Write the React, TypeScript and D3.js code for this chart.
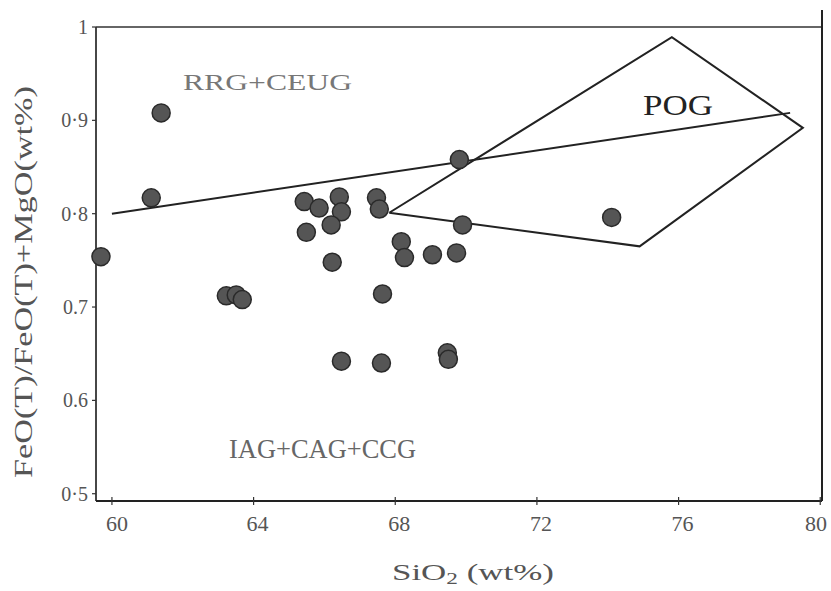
import React from "react";
import * as d3 from "d3";

// SiO2 (wt%) and FeO(T)/(FeO(T)+MgO) for each sample
const sio2 = [61.39, 61.11, 59.69, 63.23, 63.51, 63.68, 65.43, 65.85, 65.49, 66.42, 66.48, 66.19, 66.22, 67.47, 67.55, 67.64, 68.17, 68.26, 69.05, 69.73, 69.9, 69.81, 74.11, 66.48, 67.61, 69.47, 69.5];
const feoRatio = [0.908, 0.817, 0.754, 0.712, 0.713, 0.708, 0.813, 0.806, 0.78, 0.818, 0.802, 0.788, 0.748, 0.817, 0.805, 0.714, 0.77, 0.753, 0.756, 0.758, 0.788, 0.858, 0.796, 0.642, 0.64, 0.651, 0.644];

const xTicks = [60, 64, 68, 72, 76, 80];
const xTickLabels = ["60", "64", "68", "72", "76", "80"];
const yTicks = [1, 0.9, 0.8, 0.7, 0.6, 0.5];
const yTickLabels = ["1", "0·9", "0·8", "0.7", "0.6", "0·5"];

// Field boundary between RRG+CEUG and IAG+CAG+CCG
const boundaryX = [60, 79.15];
const boundaryY = [0.8, 0.908];

// POG field polygon
const pogX = [67.83, 75.81, 79.51, 74.9];
const pogY = [0.801, 0.989, 0.892, 0.765];

const FONT = "'Liberation Serif', 'DejaVu Serif', serif";

export default function App() {
  const x = d3.scaleLinear().domain([59.55, 80.05]).range([96, 822]);
  const y = d3.scaleLinear().domain([0.4922, 1.0]).range([501, 27]);

  const line = d3
    .line<[number, number]>()
    .x((d) => x(d[0]))
    .y((d) => y(d[1]));

  const boundary = line(boundaryX.map((v, i) => [v, boundaryY[i]] as [number, number]));
  const pogPts = pogX.map((v, i) => [v, pogY[i]] as [number, number]);
  const pog = line(pogPts.concat([pogPts[0]]));

  const [x0, x1] = x.range();
  const [yb, yt] = y.range();

  return (
    <svg
      width={831}
      height={591}
      style={{ position: "absolute", left: 0, top: 0, background: "#fff" }}
    >
      {/* frame */}
      <line x1={x0} y1={yt} x2={x1} y2={yt} stroke="#333" strokeWidth={1.6} />
      <line x1={x1} y1={10} x2={x1} y2={yb} stroke="#222" strokeWidth={2} />
      <line x1={x0} y1={yt} x2={x0} y2={yb} stroke="#333" strokeWidth={1.8} />
      <line x1={x0} y1={yb} x2={x1} y2={yb} stroke="#222" strokeWidth={2} />

      {/* ticks */}
      {xTicks.map((t) => (
        <line key={"xt" + t} x1={x(t)} x2={x(t)} y1={yb - 4} y2={yb + 4} stroke="#333" strokeWidth={1.2} />
      ))}
      {yTicks.map((t) => (
        <line key={"yt" + t} x1={x0 - 4} x2={x0} y1={y(t)} y2={y(t)} stroke="#333" strokeWidth={1.2} />
      ))}

      {/* tick labels */}
      {xTicks.map((t, i) => (
        <text
          key={"xl" + t}
          x={i === xTicks.length - 1 ? 816 : x(t) + (i === 0 ? 5 : 4)}
          y={531}
          textAnchor="middle"
          fontFamily={FONT}
          fontSize={22}
          fill="#555"
        >
          {xTickLabels[i]}
        </text>
      ))}
      {yTicks.map((t, i) => (
        <text
          key={"yl" + t}
          x={88}
          y={y(t) + 7}
          textAnchor="end"
          fontFamily={FONT}
          fontSize={20}
          fill="#555"
        >
          {yTickLabels[i]}
        </text>
      ))}

      {/* axis titles */}
      <text x={392} y={580} fontFamily={FONT} fontSize={24} fill="#555" textLength={162} lengthAdjust="spacingAndGlyphs">
        SiO<tspan fontSize={16} dy={4}>2</tspan>
        <tspan dy={-4}> (wt%)</tspan>
      </text>
      <text
        transform="translate(32,282) rotate(-90)"
        textAnchor="middle"
        fontFamily={FONT}
        fontSize={26}
        fill="#555"
        textLength={392}
        lengthAdjust="spacingAndGlyphs"
      >
        FeO(T)/FeO(T)+MgO(wt%)
      </text>

      {/* field lines */}
      <path d={boundary || ""} fill="none" stroke="#222" strokeWidth={2} />
      <path d={pog || ""} fill="none" stroke="#222" strokeWidth={2} strokeLinejoin="miter" />

      {/* field labels */}
      <text x={183} y={90} fontFamily={FONT} fontSize={24} fill="#777" textLength={169} lengthAdjust="spacingAndGlyphs">
        RRG+CEUG
      </text>
      <text x={643} y={115} fontFamily={FONT} fontSize={29} fill="#222" textLength={70} lengthAdjust="spacingAndGlyphs">
        POG
      </text>
      <text x={229} y={458} fontFamily={FONT} fontSize={27} fill="#666" textLength={187} lengthAdjust="spacingAndGlyphs">
        IAG+CAG+CCG
      </text>

      {/* samples */}
      {sio2.map((v, i) => (
        <circle
          key={"p" + i}
          cx={x(v)}
          cy={y(feoRatio[i])}
          r={9}
          fill="#555"
          stroke="#2a2a2a"
          strokeWidth={1.5}
        />
      ))}
    </svg>
  );
}
